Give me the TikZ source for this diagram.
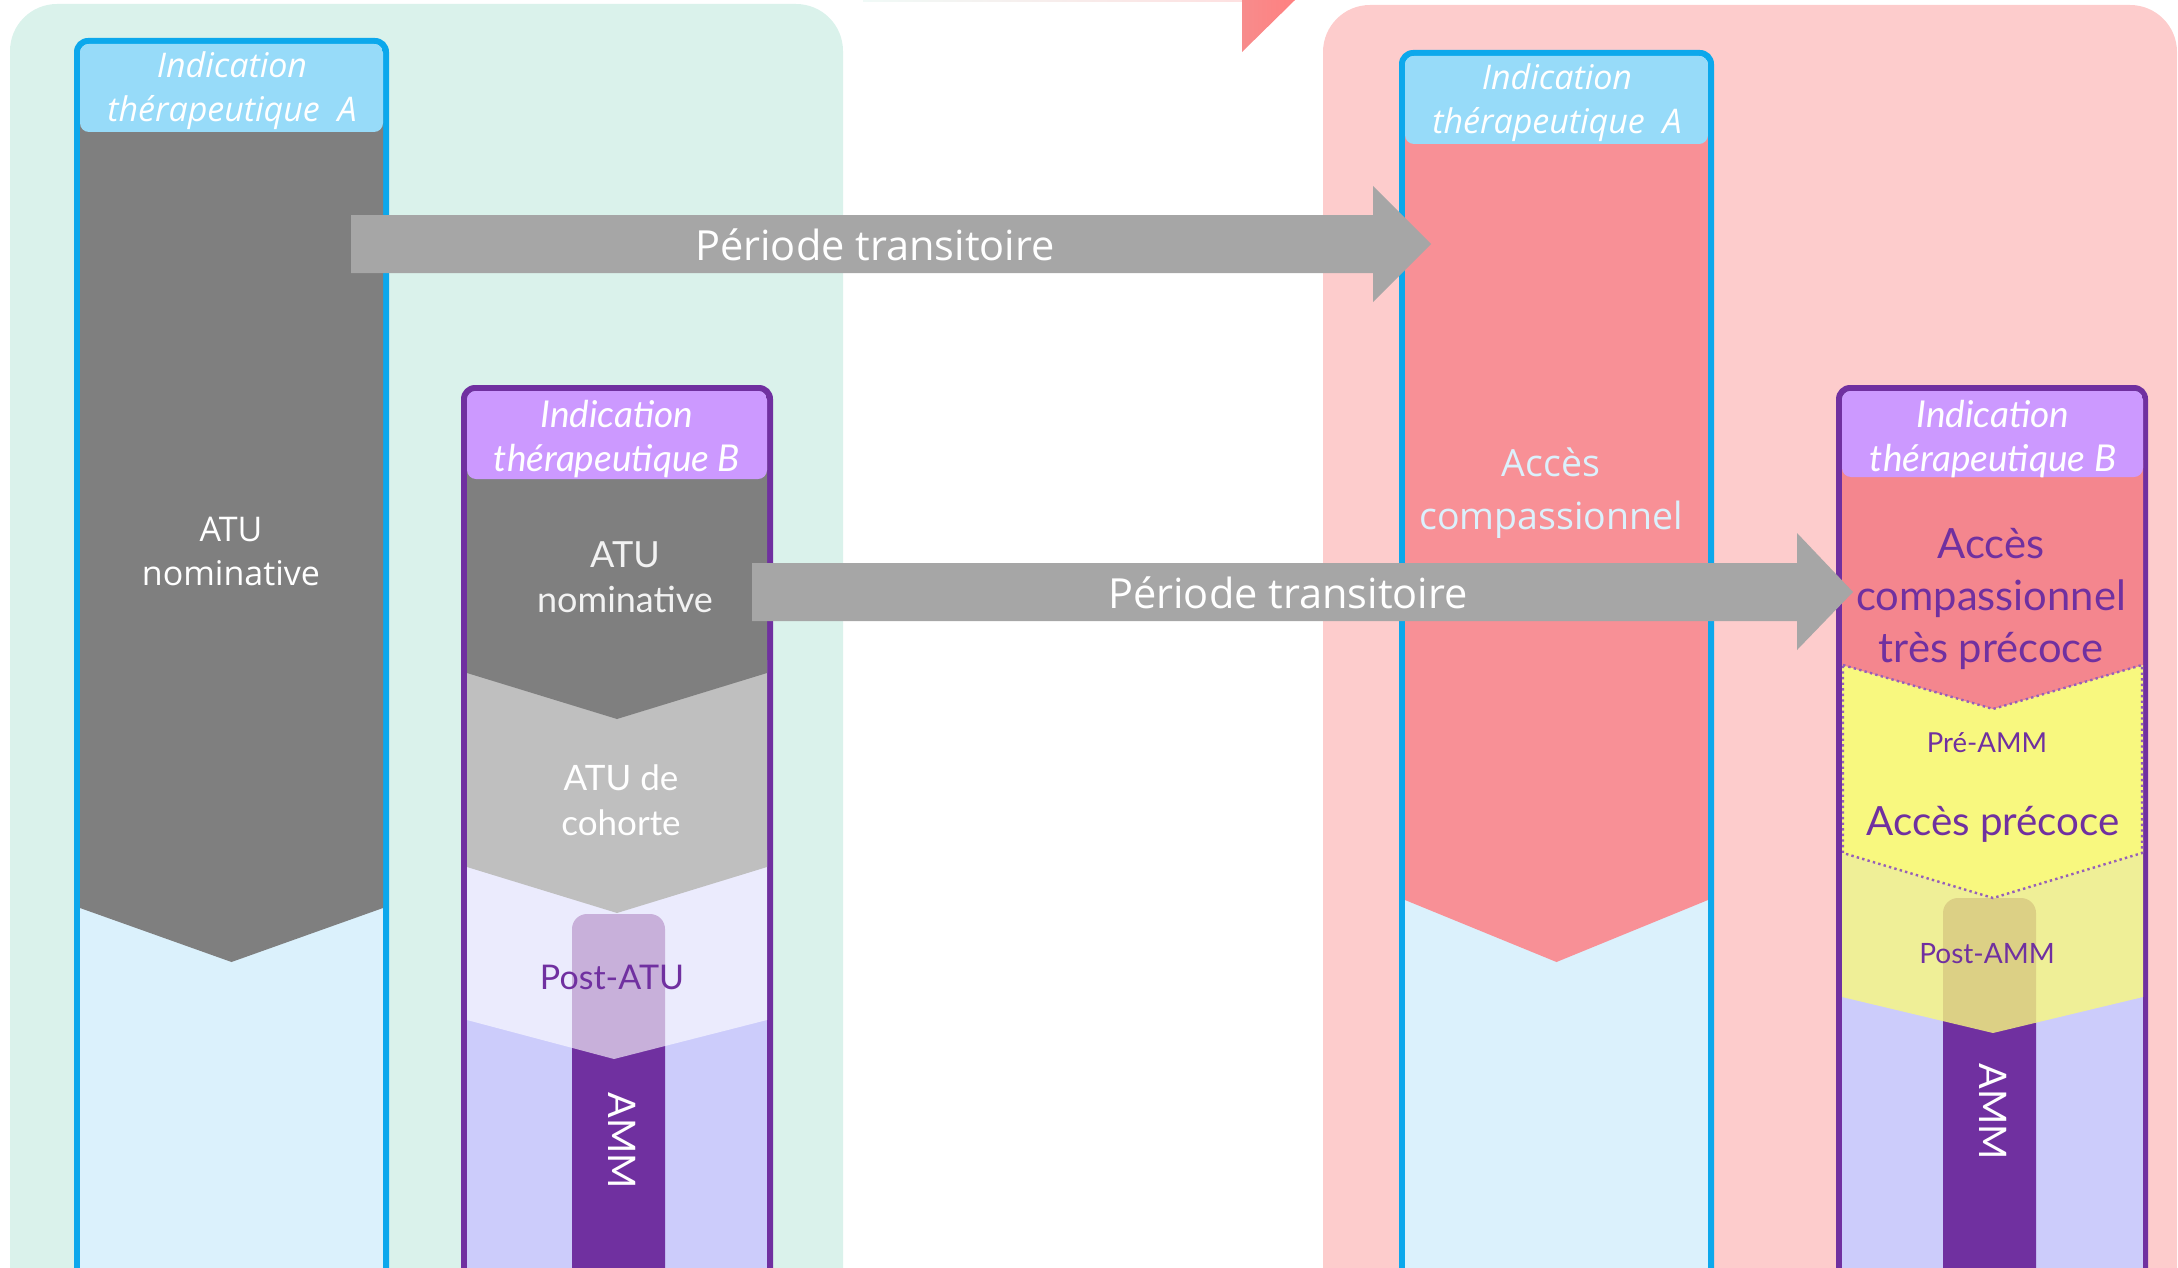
\documentclass[tikz,border=0pt]{standalone}
\usepackage{fontspec}
\setmainfont{Open Sans}
\newfontfamily\srcfont{Lato}
\definecolor{panelgreen}{RGB}{218,242,235}
\definecolor{panelpink}{RGB}{253,204,204}
\definecolor{bordblue}{RGB}{12,168,236}
\definecolor{hdrblue}{RGB}{151,219,249}
\definecolor{paleblue}{RGB}{219,241,252}
\definecolor{bordpurple}{RGB}{112,48,160}
\definecolor{hdrpurple}{RGB}{204,153,255}
\definecolor{lavender}{RGB}{204,204,251}
\definecolor{darkgrey}{RGB}{127,127,127}
\definecolor{lightgrey}{RGB}{191,191,191}
\definecolor{arrowgrey}{RGB}{166,166,166}
\definecolor{salmonA}{RGB}{248,144,150}
\definecolor{salmonB}{RGB}{244,134,142}
\definecolor{earlyyellow}{RGB}{248,248,127}
\definecolor{dotpurple}{RGB}{150,95,185}
\definecolor{tipA}{RGB}{247,140,140}
\definecolor{tipB}{RGB}{255,128,128}
\tikzset{
  hdrtextA/.style={text=white, align=center, inner sep=0pt,
    font=\itshape\fontsize{34}{44}\selectfont},
  hdrtextB/.style={text=white, align=center, inner sep=0pt,
    font=\srcfont\itshape\fontsize{37}{44}\selectfont},
  bodyA/.style={align=center, inner sep=0pt},
  bodyB/.style={align=center, inner sep=0pt},
  colframe/.style={rounded corners=14pt},
  colinner/.style={rounded corners=9pt},
  ammbar/.style={fill=bordpurple, rounded corners=15pt},
  arrowbody/.style={fill=arrowgrey},
  dotline/.style={draw=dotpurple, line width=2.4pt, dash pattern=on 2.4pt off 3.2pt}
}
\begin{document}
\begin{tikzpicture}[x=1pt,y=-1pt]
\useasboundingbox (0,0) rectangle (2178,1268);
\clip (0,0) rectangle (2178,1268);

% background panels
\fill[panelgreen, rounded corners=47pt] (10,4) rectangle (843,1330);
\fill[panelpink, rounded corners=47pt] (1323,5) rectangle (2177,1330);

% thin strip and corner of an arrow along the top edge
\shade[left color=panelgreen!40, right color=panelpink!60] (863,0) rectangle (1242,2);
\shade[left color=tipA, right color=tipB] (1242,0) -- (1295,0) -- (1242,52) -- cycle;

% ---------- indication A, before ----------
\fill[bordblue, colframe] (74,38) rectangle (389,1330);
\begin{scope}
  \clip[colinner] (80,44) rectangle (383,1330);
  \fill[paleblue] (80,44) rectangle (383,1330);
  \fill[darkgrey] (80,110) -- (383,110) -- (383,908) -- (231.5,962) -- (80,908) -- cycle;
  \fill[hdrblue, colinner] (80,44) rectangle (383,132);
\end{scope}
\node[hdrtextA] (hA1) at (232,91) {Indication\\thérapeutique~ A};
\node[bodyA, text=white, font=\fontsize{34}{44}\selectfont] (atuA) at (231,551) {ATU\\nominative};

% ---------- indication A, after ----------
\fill[bordblue, colframe] (1399,50) rectangle (1714,1330);
\begin{scope}
  \clip[colinner] (1405,56) rectangle (1708,1330);
  \fill[paleblue] (1405,56) rectangle (1708,1330);
  \fill[salmonA] (1405,120) -- (1708,120) -- (1708,900) -- (1556.5,962) -- (1405,900) -- cycle;
  \fill[hdrblue, colinner] (1405,56) rectangle (1708,144);
\end{scope}
\node[hdrtextA] (hA2) at (1557,103) {Indication\\thérapeutique~ A};
\node[bodyA, text=paleblue, font=\fontsize{37.5}{53}\selectfont] (compA) at (1551,493) {Accès\\compassionnel};

% ---------- indication B, before ----------
\fill[bordpurple, colframe] (461,385) rectangle (773,1330);
\begin{scope}
  \clip[colinner] (467,391) rectangle (767,1330);
  \fill[lavender] (467,391) rectangle (767,1330);
  \fill[ammbar] (572,914) rectangle (665,1340);
  \fill[white, opacity=0.62] (467,850) -- (767,850) -- (767,1020) -- (614,1059) -- (467,1020) -- cycle;
  \fill[lightgrey] (467,660) -- (767,660) -- (767,867) -- (617,913) -- (467,867) -- cycle;
  \fill[darkgrey] (467,460) -- (767,460) -- (767,673) -- (617,719) -- (467,673) -- cycle;
  \fill[hdrpurple, colinner] (467,391) rectangle (767,479);
\end{scope}
\node[hdrtextB] (hB1) at (617,439) {Indication\\thérapeutique B};
\node[bodyB, text=white!95!black, font=\srcfont\fontsize{36}{45}\selectfont] (atuB) at (625,577) {ATU\\nominative};
\node[bodyB, text=white, font=\srcfont\fontsize{35}{45}\selectfont] (cohB) at (621,800) {ATU de\\cohorte};
\node[bodyB, text=bordpurple, font=\srcfont\fontsize{34}{40}\selectfont] (postatu) at (612,977) {Post-ATU};
\node[bodyB, text=white, rotate=-90, font=\srcfont\fontsize{38}{40}\selectfont] (ammB1) at (622,1141) {AMM};

% ---------- indication B, after ----------
\fill[bordpurple, colframe] (1836,385) rectangle (2148,1330);
\begin{scope}
  \clip[colinner] (1842,391) rectangle (2143,1330);
  \fill[lavender] (1842,391) rectangle (2143,1330);
  \fill[ammbar] (1943,898) rectangle (2036,1340);
  \fill[earlyyellow, opacity=0.8] (1842,840) -- (2143,840) -- (2143,997) -- (1993,1033) -- (1842,997) -- cycle;
  \fill[earlyyellow] (1842,665) -- (1993,709) -- (2143,665) -- (2143,853) -- (1993,898) -- (1842,853) -- cycle;
  \fill[salmonB] (1842,460) -- (2143,460) -- (2143,665) -- (1993,709) -- (1842,665) -- cycle;
  \path[dotline] (1843,665) -- (1993,709) -- (2142,665) -- (2142,853) -- (1993,898) -- (1843,853) -- cycle;
  \fill[hdrpurple, colinner] (1842,391) rectangle (2143,477);
\end{scope}
\node[hdrtextB] (hB2) at (1993,439) {Indication\\thérapeutique B};
\node[bodyB, text=bordpurple, font=\srcfont\fontsize{41.7}{52}\selectfont] (compB) at (1991,599) {Accès\\compassionnel\\très précoce};
\node[bodyB, text=bordpurple, font=\srcfont\fontsize{27.5}{30}\selectfont] (preamm) at (1987,743) {Pré-AMM};
\node[bodyB, text=bordpurple, font=\srcfont\fontsize{40.3}{42}\selectfont] (precoce) at (1993,824) {Accès précoce};
\node[bodyB, text=bordpurple, font=\srcfont\fontsize{28}{30}\selectfont] (postamm) at (1987,954) {Post-AMM};
\node[bodyB, text=white, rotate=-90, font=\srcfont\fontsize{38}{40}\selectfont] (ammB2) at (1993,1112) {AMM};

% ---------- transition arrows ----------
\fill[arrowbody] (351,215) -- (1373,215) -- (1373,186) -- (1431,244) -- (1373,302) -- (1373,273) -- (351,273) -- cycle;
\node[text=white, inner sep=0pt, font=\fontsize{41.5}{45}\selectfont] (trans1) at (875,245) {Période transitoire};
\fill[arrowbody] (752,563) -- (1797,563) -- (1797,533) -- (1853,592) -- (1797,650) -- (1797,621) -- (752,621) -- cycle;
\node[text=white, inner sep=0pt, font=\fontsize{41.5}{45}\selectfont] (trans2) at (1288,593) {Période transitoire};
\end{tikzpicture}
\end{document}
